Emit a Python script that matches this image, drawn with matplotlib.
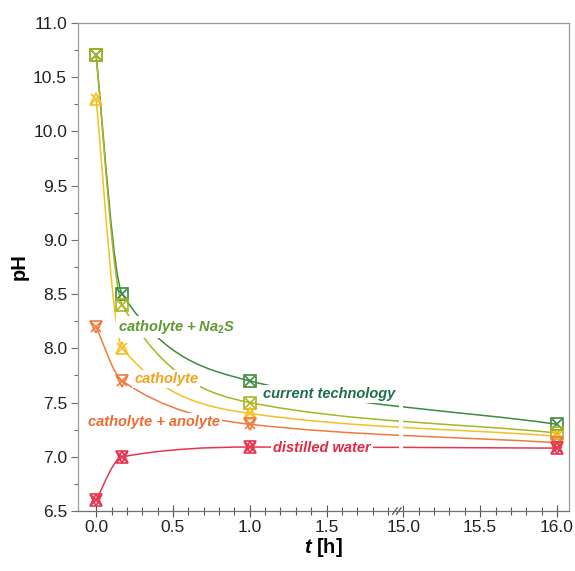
import numpy as np
import matplotlib
matplotlib.use("Agg")
import matplotlib.pyplot as plt
from matplotlib.path import Path
from matplotlib.patches import PathPatch
from matplotlib.ticker import FixedLocator, FixedFormatter, MultipleLocator

plt.rcParams['font.family'] = ['Liberation Sans', 'DejaVu Sans']
plt.rcParams['mathtext.fontset'] = 'custom'
plt.rcParams['mathtext.rm'] = 'Liberation Sans'
plt.rcParams['mathtext.it'] = 'Liberation Sans:italic'
plt.rcParams['mathtext.bf'] = 'Liberation Sans:bold'
plt.rcParams['mathtext.bfit'] = 'Liberation Sans:italic:bold'

# data (pH over time)
hours = [0.0, 0.17, 1.0, 16.0]
current_technology = [10.7, 8.5, 7.7, 7.3]
catholyte_na2s = [10.7, 8.4, 7.5, 7.22]
catholyte = [10.3, 8.0, 7.4, 7.19]
catholyte_anolyte = [8.2, 7.7, 7.3, 7.13]
distilled_water = [6.6, 7.0, 7.09, 7.08]

tick_hours = [0.0, 0.5, 1.0, 1.5, 15.0, 15.5, 16.0]
tick_labels = ['0.0', '0.5', '1.0', '1.5', '15.0', '15.5', '16.0']

# broken time axis: everything from 15 h on is shifted left by 13 h
def to_axis(t):
    t = np.asarray(t, float)
    return np.where(t >= 15.0, t - 13.0, t)


def smooth_path(xs, ys):
    # monotone cubic (Fritsch-Carlson) through the data points, as bezier path
    xs = np.asarray(xs, float)
    ys = np.asarray(ys, float)
    h = np.diff(xs)
    d = np.diff(ys) / h
    m = np.zeros_like(ys)
    for k in range(1, len(xs) - 1):
        if d[k - 1] * d[k] > 0:
            w1 = 2 * h[k] + h[k - 1]
            w2 = h[k] + 2 * h[k - 1]
            m[k] = (w1 + w2) / (w1 / d[k - 1] + w2 / d[k])
    m0 = ((2 * h[0] + h[1]) * d[0] - h[0] * d[1]) / (h[0] + h[1])
    m[0] = m0 if m0 * d[0] > 0 else 0.0
    m[-1] = d[-1]
    verts = [(xs[0], ys[0])]
    codes = [Path.MOVETO]
    for k in range(len(h)):
        verts += [(xs[k] + h[k] / 3, ys[k] + m[k] * h[k] / 3),
                  (xs[k + 1] - h[k] / 3, ys[k + 1] - m[k + 1] * h[k] / 3),
                  (xs[k + 1], ys[k + 1])]
        codes += [Path.CURVE4] * 3
    return Path(verts, codes)


series = [
    (current_technology, '#3d8b3f', ['s', 'x']),
    (catholyte_na2s, '#a8b524', ['s', 'x']),
    (catholyte, '#f6bf24', ['^', 'x']),
    (catholyte_anolyte, '#f07a3c', ['v', 'x']),
    (distilled_water, '#e8354f', ['^', 'v', 'x']),
]

fig = plt.figure(figsize=(5.75, 5.71), dpi=100)
ax = fig.add_axes([0.136, 0.105, 0.854, 0.855])

x = to_axis(hours)
for values, color, markers in series:
    ax.add_patch(PathPatch(smooth_path(x, values), fill=False, edgecolor=color,
                           lw=1.1, zorder=2))
    for mk in markers:
        ax.plot(x, values, linestyle='none', marker=mk, markersize=9 if mk != 'x' else 7.5,
                markerfacecolor='none', markeredgecolor=color, markeredgewidth=1.2, zorder=4)

# gap in the curves at the axis break
ax.axvspan(1.97, 1.995, ymin=0.01, ymax=0.99, color='white', zorder=3, lw=0)
# break marks on the time axis
ax.plot([1.93, 1.96], [6.47, 6.53], color='#555555', lw=0.9, clip_on=False, zorder=5)
ax.plot([1.955, 1.985], [6.47, 6.53], color='#555555', lw=0.9, clip_on=False, zorder=5)

labels = [
    (0.143, 8.20, 'catholyte + Na$_\\mathbf{2}$S', '#5f9a30'),
    (0.247, 7.72, 'catholyte', '#f2a31c'),
    (-0.052, 7.32, 'catholyte + anolyte', '#ee6b34'),
    (1.087, 7.575, 'current technology', '#1e6e4c'),
    (1.15, 7.08, 'distilled water', '#e12a43'),
]
for lx, ly, txt, color in labels:
    ax.text(lx, ly, txt, color=color, fontsize=10.5, fontweight='bold', style='italic',
            ha='left', va='center', zorder=3.5,
            bbox=dict(facecolor='white', edgecolor='none', pad=1.5))

ax.set_xlim(-0.117, 3.08)
ax.set_ylim(6.5, 11.0)

ax.xaxis.set_major_locator(FixedLocator(to_axis(tick_hours)))
ax.xaxis.set_major_formatter(FixedFormatter(tick_labels))
ax.xaxis.set_minor_locator(FixedLocator(np.arange(0.1, 3.0, 0.1)))
ax.yaxis.set_major_locator(MultipleLocator(0.5))
ax.yaxis.set_minor_locator(MultipleLocator(0.25))
ax.yaxis.set_major_formatter(plt.FormatStrFormatter('%.1f'))

ax.tick_params(axis='y', which='major', direction='out', length=5, width=0.8,
               color='#707070', labelsize=12.5, labelcolor='#222222', pad=3)
ax.tick_params(axis='y', which='minor', direction='out', length=3, width=0.8, color='#707070')
ax.tick_params(axis='x', which='major', direction='inout', length=9, width=0.8,
               color='#555555', labelsize=12.5, labelcolor='#222222', pad=2)
ax.tick_params(axis='x', which='minor', direction='inout', length=6, width=0.8, color='#555555')

for side in ['left', 'right', 'top', 'bottom']:
    ax.spines[side].set_color('#a09898')
    ax.spines[side].set_linewidth(0.9)
ax.spines['bottom'].set_color('#707070')

ax.set_ylabel('pH', fontsize=14.5, fontweight='bold', labelpad=3)
ax.set_xlabel('$\\mathbfit{t}$ [h]', fontsize=14.5, fontweight='bold', labelpad=1)

fig.savefig('out.png', dpi=100)
